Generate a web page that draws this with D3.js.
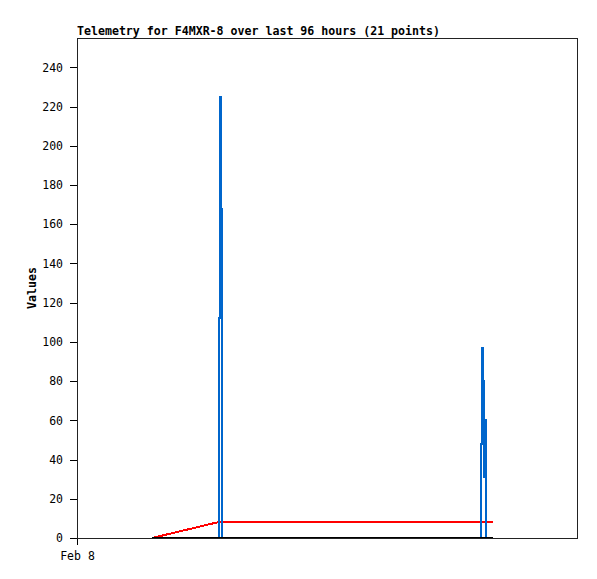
<!DOCTYPE html>
<html><head><meta charset="utf-8">
<script src="https://cdn.jsdelivr.net/npm/d3@7"></script>
<style>
body{margin:0;background:#fff;}
text{font-family:"DejaVu Sans Mono","Liberation Mono",monospace;}
</style></head>
<body><svg id="c" width="597" height="579"></svg>
<script>
const title = "Telemetry for F4MXR-8 over last 96 hours (21 points)";
const yLabel = "Values";
const baseDay = "2024-02-08T00:00:00Z";
const xTickLabels = ["Feb 8"];
// hours after Feb 8 00:00
const hours = [3.600, 6.744, 6.778, 6.797, 6.864, 6.922, 6.941, 6.955, 6.989, 10.704, 15.504,
               19.354, 19.378, 19.402, 19.450, 19.478, 19.536, 19.598, 19.635, 19.650, 19.968];
const seriesBlue  = [0, 0, 0, 112, 225, 168, 56, 0, 0, 0, 0, 0, 0, 48, 97, 80, 31, 60, 20, 0, 0];
const seriesRed   = [0, 8, 8, 8, 8, 8, 8, 8, 8, 8, 8, 8, 8, 8, 8, 8, 8, 8, 8, 8, 8];
const seriesBlack = [0, 0, 0, 0, 0, 0, 0, 0, 0, 0, 0, 0, 0, 0, 0, 0, 0, 0, 0, 0, 0];
const yTicks = [0, 20, 40, 60, 80, 100, 120, 140, 160, 180, 200, 220, 240];

const svg = d3.select("#c");
const L = 77, R = 577, T = 38, B = 538;
const base = new Date(baseDay);
const toDate = h => new Date(base.getTime() + h * 3600e3);
const x = d3.scaleUtc().domain([base, toDate(24)]).range([L, R]);
const y = d3.scaleLinear().domain([0, 255]).range([B, T]);

svg.append("text").attr("x", L).attr("y", 35).attr("font-size", "11.6px")
  .attr("font-weight", "bold").attr("fill", "#000").text(title);

// y axis
const ya = svg.append("g").attr("transform", `translate(${L},0)`)
  .call(d3.axisLeft(y).tickValues(yTicks).tickSize(7).tickPadding(7).tickFormat(d3.format("d")));
ya.select(".domain").remove();
ya.selectAll("line").attr("stroke", "#000").attr("shape-rendering", "crispEdges");
ya.selectAll("text").attr("font-size", "11.5px").attr("fill", "#000")
  .attr("font-family", "DejaVu Sans Mono, monospace");

// x axis
const xa = svg.append("g").attr("transform", `translate(0,${B})`)
  .call(d3.axisBottom(x).tickValues([base]).tickSize(7).tickPadding(7)
    .tickFormat((d, i) => xTickLabels[i]));
xa.select(".domain").remove();
xa.selectAll("line").attr("stroke", "#000").attr("shape-rendering", "crispEdges");
xa.selectAll("text").attr("font-size", "11.5px").attr("fill", "#000")
  .attr("font-family", "DejaVu Sans Mono, monospace");

svg.append("text").attr("transform", `translate(36,${(T + B) / 2}) rotate(-90)`)
  .attr("text-anchor", "middle").attr("font-size", "11.6px").attr("font-weight", "bold")
  .text(yLabel);

const drawSeries = (vals, color, curve) => svg.append("path").datum(vals)
  .attr("d", d3.line().curve(curve).x((d, i) => x(toDate(hours[i]))).y(d => y(d)))
  .attr("fill", "none").attr("stroke", color).attr("stroke-width", 2)
  .attr("stroke-linejoin", "miter").attr("shape-rendering", "crispEdges");
drawSeries(seriesRed, "#ff0000", d3.curveLinear);
drawSeries(seriesBlue, "#0066cc", d3.curveStepAfter);
drawSeries(seriesBlack, "#000000", d3.curveLinear);

// frame
svg.append("rect").attr("x", L + 0.5).attr("y", T + 0.5).attr("width", R - L).attr("height", B - T)
  .attr("fill", "none").attr("stroke", "#222").attr("stroke-width", 1);
</script></body></html>
